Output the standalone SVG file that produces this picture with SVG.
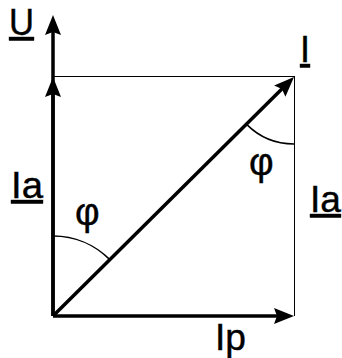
<svg xmlns="http://www.w3.org/2000/svg" width="342" height="358" viewBox="0 0 342 358">
  <style>
    .vec { stroke: #000; stroke-width: 3.5; fill: none; marker-end: url(#arrow); }
    .thin { stroke: #000; stroke-width: 1; fill: none; }
    .arc { stroke: #000; stroke-width: 1.5; fill: none; }
    .lbl { font-family: "Liberation Sans", Arial, sans-serif; font-size: 36px; fill: #000; stroke: #000; stroke-width: 0.4; }
    .phi { font-size: 38px; }
    .ul { text-decoration: underline; }
  </style>
  <defs>
    <marker id="arrow" markerUnits="userSpaceOnUse" markerWidth="20" markerHeight="16" refX="10" refY="8" orient="auto" viewBox="0 0 20 16">
      <path d="M0,0 L20,8 L0,16 L3,8 z" fill="#000"/>
    </marker>
  </defs>
  <rect width="342" height="358" fill="#fff"/>
  <g id="connectors">
    <line class="thin" x1="53" y1="76.5" x2="294" y2="76.5"/>
    <line class="thin" x1="294.5" y1="76" x2="294.5" y2="316"/>
    <path class="vec" d="M53,316 L53,25"/>
    <path class="vec" d="M53,316 L53,87"/>
    <path class="vec" d="M53,316 L284,316"/>
    <path class="vec" d="M53,316 L286.9,84.1"/>
    <path class="arc" d="M246.6,124.4 A67,67 0 0 0 294,144"/>
    <path class="arc" d="M53,236 A80,80 0 0 1 109.6,259.4"/>
  </g>
  <g id="label-U"><text class="lbl ul" x="9" y="35" textLength="25" lengthAdjust="spacingAndGlyphs">U</text></g>
  <g id="label-I"><text class="lbl ul" x="300" y="62">I</text></g>
  <g id="label-Ia-left"><text class="lbl ul" x="11" y="198" textLength="32" lengthAdjust="spacingAndGlyphs">Ia</text></g>
  <g id="label-Ia-right"><text class="lbl ul" x="310" y="212" textLength="31" lengthAdjust="spacingAndGlyphs">Ia</text></g>
  <g id="label-Ip"><text class="lbl" x="215" y="350" textLength="31" lengthAdjust="spacingAndGlyphs">Ip</text></g>
  <g id="label-phi-right"><text class="lbl phi" x="249" y="175">φ</text></g>
  <g id="label-phi-left"><text class="lbl phi" x="75" y="225">φ</text></g>
</svg>
